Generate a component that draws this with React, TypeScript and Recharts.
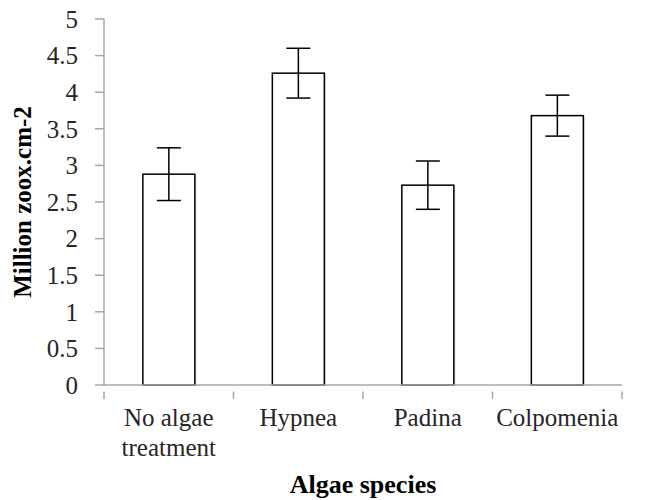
import React from "react";
import { BarChart, Bar, XAxis, YAxis, ErrorBar, Label } from "recharts";

const categories = ["No algae treatment", "Hypnea", "Padina", "Colpomenia"];
const tickLines: string[][] = [["No algae", "treatment"], ["Hypnea"], ["Padina"], ["Colpomenia"]];
const means = [2.88, 4.26, 2.73, 3.68];
const errors = [0.36, 0.34, 0.33, 0.28];
const yTicks = [0, 0.5, 1, 1.5, 2, 2.5, 3, 3.5, 4, 4.5, 5];

const data = categories.map((c, i) => ({ name: c, value: means[i], err: errors[i] }));

const FONT = "'Liberation Serif', 'Times New Roman', serif";
const AXIS = "#a6a6a6";
const TEXT = "#262626";

const CatTick = (props: any) => {
  const { x, y, payload, index, visibleTicksCount, width } = props;
  const idx = categories.indexOf(payload.value);
  const lines = tickLines[idx] || [payload.value];
  const half = payload && payload.offset ? payload.offset : (width && visibleTicksCount ? width / visibleTicksCount / 2 : 0);
  const isLast = index === (visibleTicksCount || categories.length) - 1;
  return (
    <g>
      <line x1={x - half} x2={x - half} y1={y - 0.5} y2={y + 7} stroke={AXIS} strokeWidth={1.5} />
      {isLast && <line x1={x + half} x2={x + half} y1={y - 0.5} y2={y + 7} stroke={AXIS} strokeWidth={1.5} />}
      <text x={x} y={y} textAnchor="middle" fill={TEXT} fontSize={25} fontFamily={FONT}>
        {lines.map((l, i) => (
          <tspan key={i} x={x} dy={i === 0 ? 34 : 30}>{l}</tspan>
        ))}
      </text>
    </g>
  );
};

const YLabel = (props: any) => {
  const vb = props.viewBox || {};
  const cy = (vb.y || 0) + (vb.height || 0) / 2;
  const cx = 22;
  return (
    <text x={cx} y={cy} transform={`rotate(-90, ${cx}, ${cy})`} textAnchor="middle" dominantBaseline="central"
      fontSize={25} fontWeight="bold" fontFamily={FONT} fill="#000">Million zoox.cm-2</text>
  );
};

const XLabel = (props: any) => {
  const vb = props.viewBox || {};
  const cx = (vb.x || 0) + (vb.width || 0) / 2;
  return (
    <text x={cx} y={493} textAnchor="middle" fontSize={26} fontWeight="bold" fontFamily={FONT} fill="#000">Algae species</text>
  );
};

const ShadowBar = (props: any) => {
  const { x, y, width, height } = props;
  if (width == null || height == null) return null;
  return (
    <g>
      <rect x={x + 1.5} y={y + 1} width={width} height={height} fill="#000" opacity={0.12} />
      <rect x={x} y={y} width={width} height={height} fill="#fff" stroke="#000" strokeWidth={1.5} />
    </g>
  );
};

export default function App() {
  return (
    <div style={{ position: "absolute", left: 0, top: 0, width: 646, height: 500, background: "#fff" }}>
      <BarChart width={646} height={500} data={data} margin={{ top: 19, right: 24, left: 0, bottom: 0 }} barCategoryGap="30%">
        <XAxis dataKey="name" height={115} tickLine={false} tickSize={7} tickMargin={0} interval={0}
          axisLine={{ stroke: AXIS, strokeWidth: 1.5 }} tick={<CatTick />}>
          <Label content={<XLabel />} />
        </XAxis>
        <YAxis width={104} domain={[0, 5]} ticks={yTicks} interval={0} tickSize={9} tickMargin={17}
          axisLine={{ stroke: AXIS, strokeWidth: 1.5 }} tickLine={{ stroke: AXIS, strokeWidth: 1.5 }}
          tick={{ fill: TEXT, fontSize: 25, fontFamily: FONT }}>
          <Label content={<YLabel />} />
        </YAxis>
        <Bar dataKey="value" fill="#fff" stroke="#000" strokeWidth={1.5} isAnimationActive={false} shape={<ShadowBar />}>
          <ErrorBar dataKey="err" width={12} stroke="#000" strokeWidth={1.5} direction="y" />
        </Bar>
      </BarChart>
    </div>
  );
}
